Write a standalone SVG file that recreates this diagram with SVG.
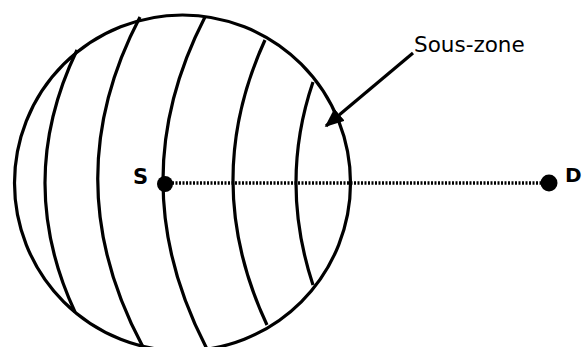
<svg xmlns="http://www.w3.org/2000/svg" width="582" height="347" viewBox="0 0 582 347">
<style>
.ln{fill:none;stroke:#000;stroke-width:3.2}
.lbl{font-family:"DejaVu Sans",sans-serif;fill:#000}
</style>
<defs>
<marker id="ah" markerWidth="6" markerHeight="5" refX="5.5" refY="2.5" orient="auto" markerUnits="strokeWidth">
<path d="M0,0 L6,2.5 L0,5 Z" fill="#000"/>
</marker>
</defs>
<rect width="582" height="347" fill="#fff"/>
<g id="zone">
<circle class="ln" cx="182.5" cy="183" r="168"/>
<path class="ln" d="M77,50 Q14,181 75,312"/>
<path class="ln" d="M140,17 Q54,181 143,347"/>
<path class="ln" d="M205,17 Q120,182 207,349"/>
<path class="ln" d="M265,40 Q200,182 267,325"/>
<path class="ln" d="M313,82 Q279,182 313,285"/>
</g>
<g id="connectors">
<line x1="165" y1="183" x2="550" y2="183" stroke="#000" stroke-width="3.5" stroke-dasharray="2,1.5"/>
<line class="ln" x1="413" y1="53" x2="326" y2="126" marker-end="url(#ah)"/>
</g>
<g id="S">
<circle cx="165" cy="184" r="8" fill="#000"/>
<text class="lbl" x="133" y="183.5" font-size="21" font-weight="bold">S</text>
</g>
<g id="D">
<circle cx="549" cy="183" r="8.5" fill="#000"/>
<text class="lbl" x="565" y="181.5" font-size="20" font-weight="bold">D</text>
</g>
<g id="souszone">
<text class="lbl" x="414" y="52" font-size="21.5">Sous-zone</text>
</g>
</svg>
